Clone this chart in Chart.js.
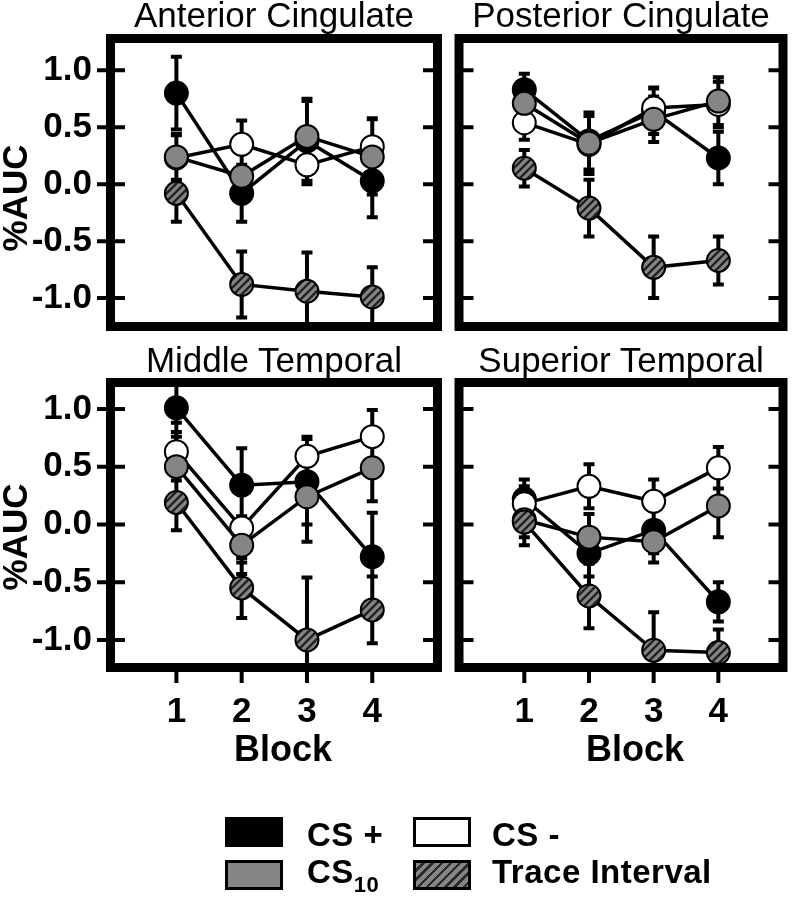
<!DOCTYPE html>
<html>
<head>
<meta charset="utf-8">
<script src="https://cdn.jsdelivr.net/npm/chart.js@4/dist/chart.umd.min.js"></script>
<style>
  html, body { margin:0; padding:0; background:#fff; }
  body { width:792px; height:899px; position:relative; overflow:hidden;
         font-family:"Liberation Sans", Arial, Helvetica, sans-serif; color:#000; }
  canvas { position:absolute; }
  .t { position:absolute; white-space:nowrap; line-height:1; }
  .title { font-size:35px; font-weight:normal; text-align:center; width:318px; }
  .ylab { font-size:35px; font-weight:bold; transform:translate(-50%,-50%) rotate(-90deg); }
  .xlab { font-size:36px; font-weight:bold; transform:translate(-50%,-50%); }
  .lg { position:absolute; box-sizing:border-box; width:58px; height:30px; border:3px solid #000; }
  .lt { position:absolute; white-space:nowrap; line-height:1; font-size:33px; font-weight:bold; letter-spacing:0.5px; }
  .lt sub { font-size:22px; vertical-align:-9px; line-height:1; }
</style>
</head>
<body>
<canvas id="p1" width="450" height="340" style="left:0;top:0;"></canvas>
<canvas id="p2" width="342" height="340" style="left:450px;top:0;"></canvas>
<canvas id="p3" width="450" height="430" style="left:0;top:340px;"></canvas>
<canvas id="p4" width="342" height="430" style="left:450px;top:340px;"></canvas>

<div class="t title" style="left:115px;top:-3px;">Anterior Cingulate</div>
<div class="t title" style="left:462px;top:-3px;">Posterior Cingulate</div>
<div class="t title" style="left:115px;top:342px;">Middle Temporal</div>
<div class="t title" style="left:462px;top:342px;">Superior Temporal</div>

<div class="t ylab" style="left:14px;top:198px;">%AUC</div>
<div class="t ylab" style="left:14px;top:537px;">%AUC</div>
<div class="t xlab" style="left:283px;top:749px;">Block</div>
<div class="t xlab" style="left:635px;top:749px;">Block</div>

<div class="lg" style="left:225px;top:817px;background:#000;"></div>
<div class="lt" style="left:307px;top:818px;">CS +</div>
<div class="lg" style="left:413px;top:817px;background:#fff;"></div>
<div class="lt" style="left:492px;top:818px;">CS -</div>
<div class="lg" style="left:225px;top:860px;background:#858585;"></div>
<div class="lt" style="left:307px;top:855px;">CS<sub>10</sub></div>
<div class="lg" style="left:413px;top:860px;background:repeating-linear-gradient(135deg,#858585 0px,#858585 4px,#2a2a2a 4px,#2a2a2a 6.5px);"></div>
<div class="lt" style="left:492px;top:855px;">Trace Interval</div>

<script>
// ---------- data ----------
const blocks = [1, 2, 3, 4];
const blockLabels = ['1', '2', '3', '4'];
const yTicks = [-1.0, -0.5, 0.0, 0.5, 1.0];
const seriesNames = ['CS +', 'CS -', 'CS10', 'Trace Interval'];

// Anterior Cingulate
const acCSplus  = [0.80, -0.08, 0.38, 0.03];
const acCSminus = [0.23, 0.35, 0.17, 0.33];
const acCS10    = [0.24, 0.07, 0.42, 0.24];
const acTrace   = [-0.08, -0.88, -0.94, -0.99];
const acCSplusErr  = [0.32, 0.25, 0.35, 0.32];
const acCSminusErr = [0.20, 0.21, 0.17, 0.25];
const acCS10Err    = [0.20, 0.20, 0.33, 0.33];
const acTraceErr   = [0.25, 0.29, 0.34, 0.26];

// Posterior Cingulate
const pcCSplus  = [0.83, 0.38, 0.64, 0.23];
const pcCSminus = [0.54, 0.35, 0.67, 0.70];
const pcCS10    = [0.71, 0.36, 0.57, 0.73];
const pcTrace   = [0.14, -0.21, -0.73, -0.67];
const pcCSplusErr  = [0.14, 0.25, 0.20, 0.23];
const pcCSminusErr = [0.15, 0.25, 0.18, 0.20];
const pcCS10Err    = [0.15, 0.27, 0.20, 0.21];
const pcTraceErr   = [0.16, 0.25, 0.27, 0.21];

// Middle Temporal
const mtCSplus  = [1.01, 0.34, 0.37, -0.28];
const mtCSminus = [0.63, -0.03, 0.59, 0.76];
const mtCS10    = [0.50, -0.18, 0.24, 0.49];
const mtTrace   = [0.19, -0.55, -1.00, -0.74];
const mtCSplusErr  = [0.25, 0.32, 0.37, 0.38];
const mtCSminusErr = [0.25, 0.30, 0.17, 0.23];
const mtCS10Err    = [0.30, 0.25, 0.39, 0.29];
const mtTraceErr   = [0.24, 0.26, 0.54, 0.29];

// Superior Temporal
const stCSplus  = [0.22, -0.25, -0.05, -0.67];
const stCSminus = [0.18, 0.33, 0.20, 0.49];
const stCS10    = [0.04, -0.11, -0.15, 0.16];
const stTrace   = [0.02, -0.62, -1.09, -1.11];
const stCSplusErr  = [0.17, 0.20, 0.20, 0.17];
const stCSminusErr = [0.15, 0.19, 0.19, 0.18];
const stCS10Err    = [0.15, 0.20, 0.18, 0.27];
const stTraceErr   = [0.20, 0.28, 0.33, 0.20];

// ---------- drawing ----------
const FONT = '"Liberation Sans", Arial, Helvetica, sans-serif';

function makeHatch(ctx) {
  const pc = document.createElement('canvas');
  pc.width = 8; pc.height = 8;
  const g = pc.getContext('2d');
  g.fillStyle = '#858585'; g.fillRect(0, 0, 8, 8);
  g.strokeStyle = '#222'; g.lineWidth = 2.4;
  g.beginPath();
  g.moveTo(-2, 10); g.lineTo(10, -2);
  g.moveTo(-2, 2); g.lineTo(2, -2);
  g.moveTo(6, 10); g.lineTo(10, 6);
  g.stroke();
  return ctx.createPattern(pc, 'repeat');
}

const framePlugin = {
  id: 'frame',
  beforeDatasetsDraw(chart, args, opts) {
    const { ctx, chartArea: a, scales: { x, y } } = chart;
    ctx.save();
    // frame
    ctx.strokeStyle = '#000';
    ctx.lineWidth = 9;
    ctx.strokeRect(a.left - 4.5, a.top - 4.5, a.right - a.left + 9, a.bottom - a.top + 9);
    // y ticks
    ctx.lineWidth = 4;
    ctx.beginPath();
    yTicks.forEach(v => {
      const py = y.getPixelForValue(v);
      ctx.moveTo(opts.showY ? a.left - 18 : a.left - 2, py); ctx.lineTo(a.left + 10, py);
      ctx.moveTo(a.right - 10, py); ctx.lineTo(a.right + 2, py);
    });
    if (opts.showX) {
      blocks.forEach(v => {
        const px = x.getPixelForValue(v);
        ctx.moveTo(px, a.bottom); ctx.lineTo(px, a.bottom + 20);
      });
    }
    ctx.stroke();
    // error bars
    ctx.beginPath();
    ctx.rect(a.left - 9, a.top - 9, a.right - a.left + 18, a.bottom - a.top + 18);
    ctx.clip();
    ctx.lineWidth = 4;
    ctx.beginPath();
    chart.data.datasets.forEach(ds => {
      ds.data.forEach((p, i) => {
        const e = ds.errorBars[i];
        const px = x.getPixelForValue(p.x);
        const y1 = y.getPixelForValue(p.y + e), y2 = y.getPixelForValue(p.y - e);
        ctx.moveTo(px, y1); ctx.lineTo(px, y2);
        ctx.moveTo(px - 5.5, y1); ctx.lineTo(px + 5.5, y1);
        ctx.moveTo(px - 5.5, y2); ctx.lineTo(px + 5.5, y2);
      });
    });
    ctx.stroke();
    ctx.restore();
  }
};

const panels = [
  { id: 'p1', pad: { left: 0, right: 17, top: 43, bottom: 18 }, yw: 115, xh: 0, showY: true, showX: false,
    ymin: -1.21, ymax: 1.24,
    series: [acCSplus, acCSminus, acCS10, acTrace], errs: [acCSplusErr, acCSminusErr, acCS10Err, acTraceErr] },
  { id: 'p2', pad: { left: 0, right: 12, top: 43, bottom: 18 }, yw: 12, xh: 0, showY: false, showX: false,
    ymin: -1.21, ymax: 1.24,
    series: [pcCSplus, pcCSminus, pcCS10, pcTrace], errs: [pcCSplusErr, pcCSminusErr, pcCS10Err, pcTraceErr] },
  { id: 'p3', pad: { left: 0, right: 17, top: 47, bottom: 4 }, yw: 115, xh: 103, showY: true, showX: true,
    ymin: -1.20, ymax: 1.19,
    series: [mtCSplus, mtCSminus, mtCS10, mtTrace], errs: [mtCSplusErr, mtCSminusErr, mtCS10Err, mtTraceErr] },
  { id: 'p4', pad: { left: 0, right: 12, top: 47, bottom: 4 }, yw: 12, xh: 103, showY: false, showX: true,
    ymin: -1.20, ymax: 1.19,
    series: [stCSplus, stCSminus, stCS10, stTrace], errs: [stCSplusErr, stCSminusErr, stCS10Err, stTraceErr] }
];

panels.forEach(p => {
  const canvas = document.getElementById(p.id);
  const ctx = canvas.getContext('2d');
  const hatch = makeHatch(ctx);
  const fills = ['#000000', '#ffffff', '#858585', hatch];
  // dataset 0 is drawn on top in Chart.js, so list Trace first
  const drawOrder = [3, 2, 1, 0];
  const datasets = drawOrder.map(k => ({
    label: seriesNames[k],
    data: p.series[k].map((v, i) => ({ x: blocks[i], y: v })),
    errorBars: p.errs[k],
    borderColor: '#000',
    borderWidth: 3.5,
    pointRadius: 11.5,
    pointBorderWidth: 2,
    pointBorderColor: '#000',
    pointBackgroundColor: fills[k],
    backgroundColor: fills[k],
    tension: 0,
    clip: 20,
    fill: false
  }));

  new Chart(ctx, {
    type: 'line',
    data: { datasets },
    options: {
      responsive: false,
      animation: false,
      events: [],
      layout: { padding: p.pad },
      plugins: { legend: { display: false }, tooltip: { enabled: false }, frame: { showY: p.showY, showX: p.showX } },
      scales: {
        x: {
          type: 'linear', min: 0.06, max: 4.93,
          afterBuildTicks: s => { s.ticks = blocks.map(v => ({ value: v })); },
          afterFit: s => { s.height = p.xh; s.paddingLeft = 0; s.paddingRight = 0; s.paddingTop = 0; s.paddingBottom = 0; },
          grid: { display: false, drawTicks: false },
          border: { display: false },
          ticks: {
            display: p.showX, autoSkip: false, maxRotation: 0, padding: 28, color: '#000',
            font: { family: FONT, size: 35, weight: 'bold' },
            callback: v => blockLabels[blocks.indexOf(v)]
          }
        },
        y: {
          type: 'linear', min: p.ymin, max: p.ymax,
          afterBuildTicks: s => { s.ticks = yTicks.map(v => ({ value: v })); },
          afterFit: s => { s.width = p.yw; s.paddingLeft = 0; s.paddingRight = 0; s.paddingTop = 0; s.paddingBottom = 0; },
          grid: { display: false, drawTicks: false },
          border: { display: false },
          ticks: {
            display: p.showY, autoSkip: false, padding: 23, color: '#000',
            font: { family: FONT, size: 35, weight: 'bold' },
            callback: v => v.toFixed(1)
          }
        }
      }
    },
    plugins: [framePlugin]
  });
});
</script>
</body>
</html>
